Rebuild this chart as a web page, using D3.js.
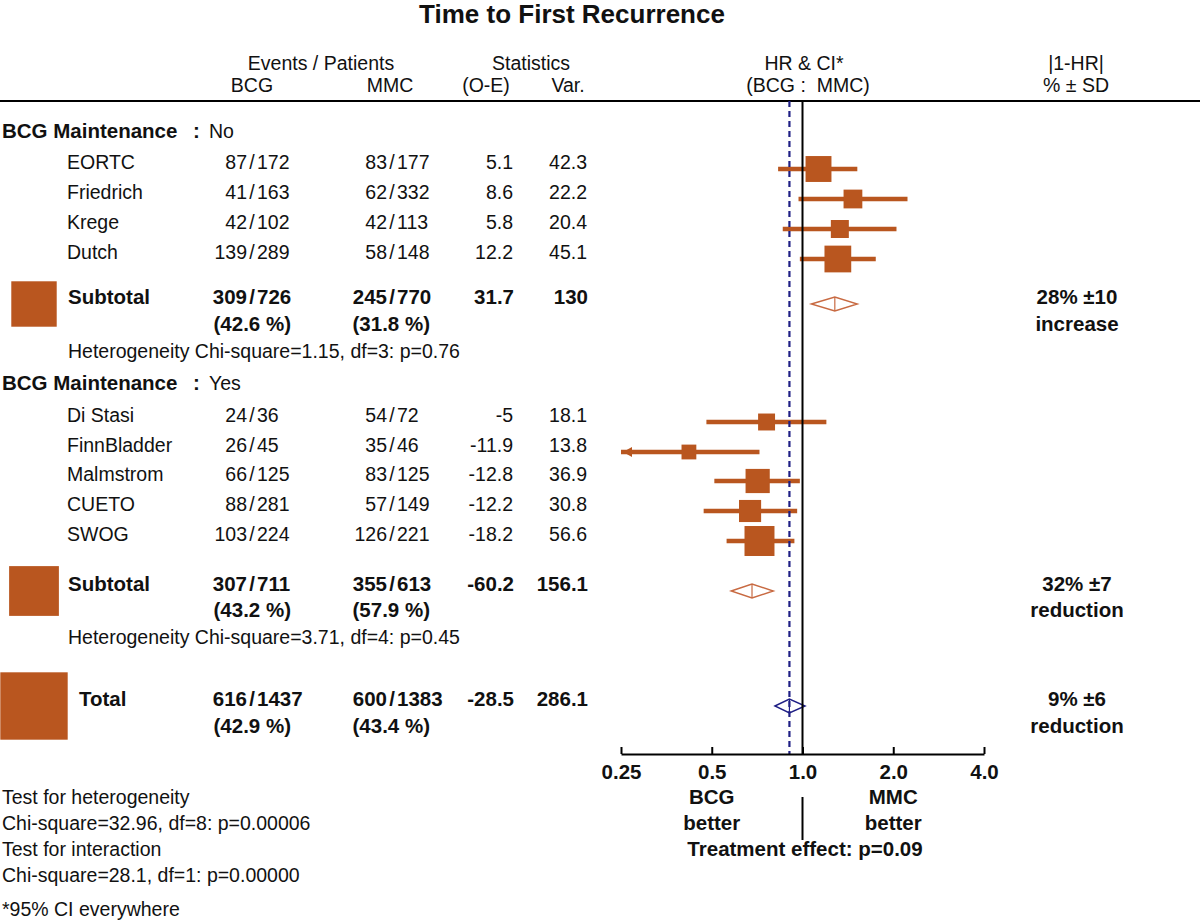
<!DOCTYPE html>
<html>
<head>
<meta charset="utf-8">
<script src="https://cdn.jsdelivr.net/npm/d3@7"></script>
<style>
    body { margin: 0; background: #fff; }
    svg text { font-family: "Liberation Sans", Arial, sans-serif; fill: #111; white-space: pre; }
</style>
</head>
<body>
<div id="chart"></div>
<script>
// study rows
const studies = ["EORTC", "Friedrich", "Krege", "Dutch", "Di Stasi", "FinnBladder", "Malmstrom", "CUETO", "SWOG"];
const bcgEvents = [87, 41, 42, 139, 24, 26, 66, 88, 103];
const bcgPatients = [172, 163, 102, 289, 36, 45, 125, 281, 224];
const mmcEvents = [83, 62, 42, 58, 54, 35, 83, 57, 126];
const mmcPatients = [177, 332, 113, 148, 72, 46, 125, 149, 221];
const oMinusE = [5.1, 8.6, 5.8, 12.2, -5, -11.9, -12.8, -12.2, -18.2];
const variance = [42.3, 22.2, 20.4, 45.1, 18.1, 13.8, 36.9, 30.8, 56.6];
const hr = [1.13, 1.47, 1.33, 1.31, 0.76, 0.42, 0.71, 0.67, 0.72];
const hrLow = [0.83, 0.97, 0.86, 0.98, 0.48, 0.24, 0.51, 0.47, 0.56];
const hrHigh = [1.52, 2.23, 2.05, 1.75, 1.20, 0.72, 0.98, 0.96, 0.94];

// subgroups (BCG maintenance No / Yes)
const groupLabels = ["No", "Yes"];
const subBcgEvents = [309, 307];
const subBcgPatients = [726, 711];
const subBcgPct = ["42.6", "43.2"];
const subMmcEvents = [245, 355];
const subMmcPatients = [770, 613];
const subMmcPct = ["31.8", "57.9"];
const subOE = [31.7, -60.2];
const subVar = [130, 156.1];
const subHr = [1.28, 0.68];
const subLow = [1.07, 0.58];
const subHigh = [1.52, 0.80];
const subEffect = ["28% \u00b110", "32% \u00b17"];
const subDirection = ["increase", "reduction"];
const subHetero = ["Heterogeneity Chi-square=1.15, df=3: p=0.76", "Heterogeneity Chi-square=3.71, df=4: p=0.45"];

// overall
const totalBcg = [616, 1437];
const totalMmc = [600, 1383];
const totalPct = ["42.9", "43.4"];
const totalOE = -28.5;
const totalVar = 286.1;
const totalHr = [0.905, 0.81, 1.02];
const totalEffect = ["9% \u00b16", "reduction"];

const tickValues = [0.25, 0.5, 1, 2, 4];
const tickLabels = ["0.25", "0.5", "1.0", "2.0", "4.0"];
const footLines = ["Test for heterogeneity", "Chi-square=32.96, df=8: p=0.00006", "Test for interaction", "Chi-square=28.1, df=1: p=0.00000", "*95% CI everywhere"];

document.addEventListener("DOMContentLoaded", function () {
    const width = 1200, height = 923;
    const orange = "#b9561f", navy = "#1f1f85";
    const fs = 19.5, fb = 20.5;

    const svg = d3.select("#chart").append("svg")
        .attr("width", width)
        .attr("height", height);

    const x = d3.scaleLog().base(2).domain([0.25, 4]).range([621, 984]);
    const box = d3.scaleSqrt().domain([0, 300]).range([0, 69]);

    // baselines of each line of the table
    const studyY = [169, 199, 229, 259, 422, 452, 481, 511, 541];
    const groupY = [138, 390], subY = [304, 591], subY2 = [331, 617], hetY = [358, 644];
    const totalY = 706, totalY2 = 733;
    const axisY = 754, topY = 101;

    function label(px, py, s, o) {
        o = o || {};
        return svg.append("text")
            .attr("x", px).attr("y", py)
            .attr("text-anchor", o.anchor || "start")
            .style("font-size", (o.size || fs) + "px")
            .style("font-weight", o.bold ? "bold" : "normal")
            .text(s);
    }
    function ratio(slash, ev, pt, py, bold) {
        const size = bold ? fb : fs;
        label(slash - 5, py, ev, { anchor: "end", bold: bold, size: size });
        label(slash, py, "/", { anchor: "middle", bold: bold, size: size });
        label(slash + 5, py, pt, { bold: bold, size: size });
    }

    // title + header
    label(572, 23, "Time to First Recurrence", { anchor: "middle", bold: true, size: 26 });
    label(321, 70, "Events / Patients", { anchor: "middle" });
    label(252, 92, "BCG", { anchor: "middle" });
    label(390, 92, "MMC", { anchor: "middle" });
    label(531, 70, "Statistics", { anchor: "middle" });
    label(486, 92, "(O-E)", { anchor: "middle" });
    label(568, 92, "Var.", { anchor: "middle" });
    label(804, 70, "HR & CI*", { anchor: "middle" });
    label(808, 92, "(BCG :  MMC)", { anchor: "middle" });
    label(1076, 70, "|1-HR|", { anchor: "middle" });
    label(1076, 92, "% \u00b1 SD", { anchor: "middle" });

    svg.append("line")
        .attr("x1", 0).attr("x2", width)
        .attr("y1", topY).attr("y2", topY)
        .attr("stroke", "#000").attr("stroke-width", 2);

    // group headers, subtotals
    groupLabels.forEach((g, i) => {
        label(2, groupY[i], "BCG Maintenance", { bold: true, size: fb });
        label(193, groupY[i], ":", { bold: true, size: fb });
        label(209, groupY[i], g);

        label(68, subY[i], "Subtotal", { bold: true, size: fb });
        ratio(252, subBcgEvents[i], subBcgPatients[i], subY[i], true);
        ratio(392, subMmcEvents[i], subMmcPatients[i], subY[i], true);
        label(291, subY2[i], "(" + subBcgPct[i] + " %)", { anchor: "end", bold: true, size: fb });
        label(430, subY2[i], "(" + subMmcPct[i] + " %)", { anchor: "end", bold: true, size: fb });
        label(514, subY[i], String(subOE[i]), { anchor: "end", bold: true, size: fb });
        label(588, subY[i], String(subVar[i]), { anchor: "end", bold: true, size: fb });
        label(68, hetY[i], subHetero[i]);
        label(1077, subY[i], subEffect[i], { anchor: "middle", bold: true, size: fb });
        label(1077, subY2[i], subDirection[i], { anchor: "middle", bold: true, size: fb });
    });

    // study rows
    studies.forEach((s, i) => {
        label(67, studyY[i], s);
        ratio(252, bcgEvents[i], bcgPatients[i], studyY[i], false);
        ratio(392, mmcEvents[i], mmcPatients[i], studyY[i], false);
        label(513, studyY[i], String(oMinusE[i]), { anchor: "end" });
        label(587, studyY[i], String(variance[i]), { anchor: "end" });
    });

    // total
    label(79, totalY, "Total", { bold: true, size: fb });
    ratio(252, totalBcg[0], totalBcg[1], totalY, true);
    ratio(392, totalMmc[0], totalMmc[1], totalY, true);
    label(291, totalY2, "(" + totalPct[0] + " %)", { anchor: "end", bold: true, size: fb });
    label(430, totalY2, "(" + totalPct[1] + " %)", { anchor: "end", bold: true, size: fb });
    label(514, totalY, String(totalOE), { anchor: "end", bold: true, size: fb });
    label(588, totalY, String(totalVar), { anchor: "end", bold: true, size: fb });
    label(1077, totalY, totalEffect[0], { anchor: "middle", bold: true, size: fb });
    label(1077, totalY2, totalEffect[1], { anchor: "middle", bold: true, size: fb });

    // weight squares on the left
    const leftSq = [[subVar[0], subY[0]], [subVar[1], subY[1]], [totalVar, totalY]];
    svg.selectAll(".wsq")
        .data(leftSq)
        .enter()
        .append("rect")
        .attr("class", "wsq")
        .attr("x", d => 34 - box(d[0]) / 2)
        .attr("y", d => d[1] - box(d[0]) / 2)
        .attr("width", d => box(d[0]))
        .attr("height", d => box(d[0]))
        .attr("fill", orange);

    // CI lines + boxes
    const rows = studies.map((s, i) => ({ i: i, y: studyY[i] }));
    svg.selectAll(".ci")
        .data(rows)
        .enter()
        .append("line")
        .attr("class", "ci")
        .attr("x1", d => x(Math.max(hrLow[d.i], 0.25)))
        .attr("x2", d => x(hrHigh[d.i]))
        .attr("y1", d => d.y).attr("y2", d => d.y)
        .attr("stroke", orange).attr("stroke-width", 4.5);

    svg.selectAll(".arrow")
        .data(rows.filter(d => hrLow[d.i] < 0.25))
        .enter()
        .append("path")
        .attr("class", "arrow")
        .attr("d", d => {
            const x0 = x(0.25) + 2;
            return `M${x0},${d.y}L${x0 + 9},${d.y - 5}L${x0 + 9},${d.y + 5}Z`;
        })
        .attr("fill", orange);

    svg.selectAll(".hrbox")
        .data(rows)
        .enter()
        .append("rect")
        .attr("class", "hrbox")
        .attr("x", d => x(hr[d.i]) - box(variance[d.i]) / 2)
        .attr("y", d => d.y - box(variance[d.i]) / 2)
        .attr("width", d => box(variance[d.i]))
        .attr("height", d => box(variance[d.i]))
        .attr("fill", orange);

    // diamonds
    const diamonds = [
        { hr: subHr[0], lo: subLow[0], hi: subHigh[0], y: subY[0], c: "#c86a42" },
        { hr: subHr[1], lo: subLow[1], hi: subHigh[1], y: subY[1], c: "#c86a42" },
        { hr: totalHr[0], lo: totalHr[1], hi: totalHr[2], y: totalY, c: navy }
    ];
    const dg = svg.selectAll(".diamond")
        .data(diamonds)
        .enter()
        .append("g")
        .attr("class", "diamond");
    dg.append("path")
        .attr("d", d => `M${x(d.lo)},${d.y}L${x(d.hr)},${d.y - 7}L${x(d.hi)},${d.y}L${x(d.hr)},${d.y + 7}Z`)
        .attr("fill", "#fff")
        .attr("stroke", d => d.c)
        .attr("stroke-width", 1.4);
    dg.append("line")
        .attr("x1", d => x(d.hr)).attr("x2", d => x(d.hr))
        .attr("y1", d => d.y - 7).attr("y2", d => d.y + 7)
        .attr("stroke", d => d.c)
        .attr("stroke-width", 1.2);

    // reference lines
    svg.append("line")
        .attr("x1", x(totalHr[0])).attr("x2", x(totalHr[0]))
        .attr("y1", topY).attr("y2", axisY)
        .attr("stroke", navy).attr("stroke-width", 2.2)
        .attr("stroke-dasharray", "6,4");
    svg.append("line")
        .attr("x1", x(1)).attr("x2", x(1))
        .attr("y1", topY).attr("y2", axisY)
        .attr("stroke", "#000").attr("stroke-width", 2);

    // axis
    const axis = svg.append("g")
        .attr("transform", `translate(0,${axisY})`)
        .call(d3.axisBottom(x)
            .tickValues(tickValues)
            .tickFormat((d, i) => tickLabels[i])
            .tickSizeInner(-7)
            .tickSizeOuter(0)
            .tickPadding(10));
    axis.select(".domain").attr("stroke", "#000").attr("stroke-width", 2);
    axis.selectAll(".tick line").attr("stroke", "#000").attr("stroke-width", 2);
    axis.selectAll(".tick text")
        .style("font-size", fb + "px")
        .style("font-weight", "bold")
        .style("font-family", '"Liberation Sans", Arial, sans-serif')
        .attr("fill", "#111");

    label(x(0.5), 804, "BCG", { anchor: "middle", bold: true, size: fb });
    label(x(0.5), 830, "better", { anchor: "middle", bold: true, size: fb });
    label(x(2), 804, "MMC", { anchor: "middle", bold: true, size: fb });
    label(x(2), 830, "better", { anchor: "middle", bold: true, size: fb });
    svg.append("line")
        .attr("x1", x(1)).attr("x2", x(1))
        .attr("y1", 797).attr("y2", 840)
        .attr("stroke", "#000").attr("stroke-width", 2);
    label(805, 856, "Treatment effect: p=0.09", { anchor: "middle", bold: true, size: fb });

    // footnotes
    const footY = [804, 830, 856, 882, 916];
    footLines.forEach((t, i) => label(2, footY[i], t));
});
</script>
</body>
</html>
